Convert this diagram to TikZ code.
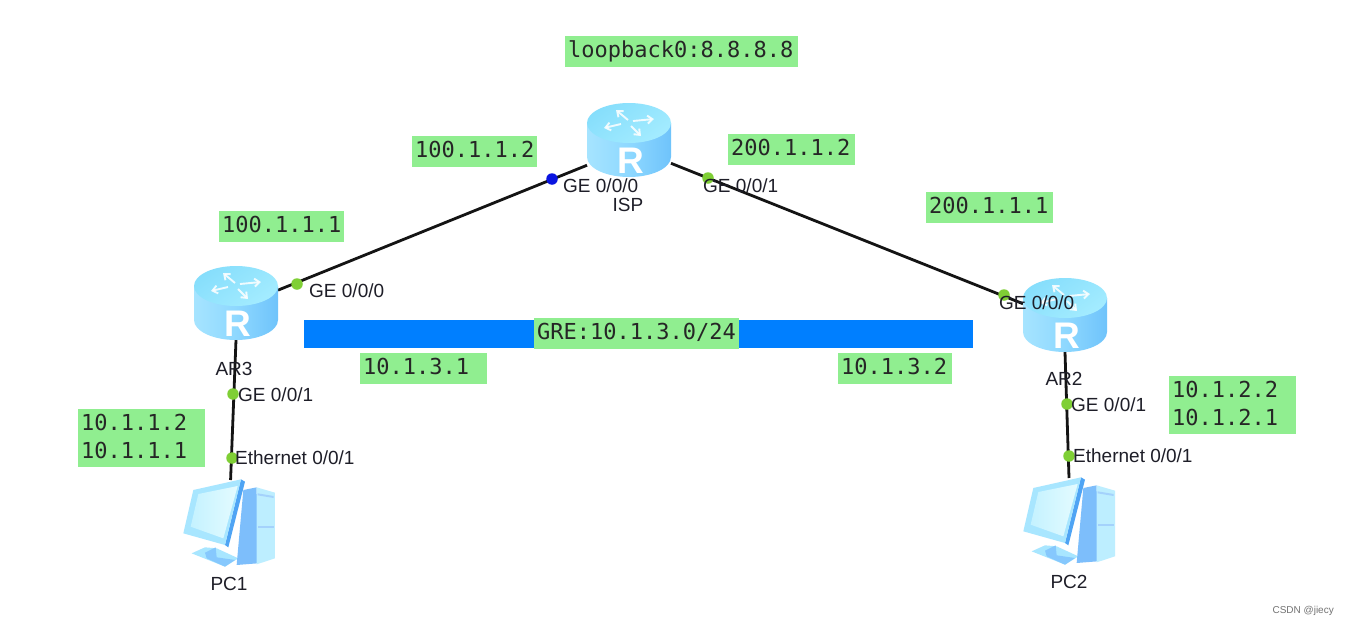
\documentclass[tikz,border=0pt]{standalone}
\usepackage{fontspec}
\setmainfont{Liberation Sans}
\newfontfamily\boxmono{DejaVu Sans Mono}
\usetikzlibrary{arrows.meta}
\definecolor{boxgreen}{HTML}{90EE90}
\definecolor{portgreen}{HTML}{7FCF35}
\definecolor{portblue}{HTML}{0A14E0}
\definecolor{barblue}{HTML}{007FFF}
\definecolor{inktext}{HTML}{1E1E28}
\definecolor{rlight}{HTML}{A6E4FF}
\definecolor{rmid}{HTML}{6FC3FB}
\definecolor{rpale}{HTML}{8ED8FF}
\definecolor{rtopa}{HTML}{86DEFC}
\definecolor{rtopb}{HTML}{A4ECFF}
\definecolor{pcframe}{HTML}{A8E6FF}
\definecolor{pcscreena}{HTML}{C4F2FF}
\definecolor{pcscreenb}{HTML}{E4FBFF}
\definecolor{pcside}{HTML}{7DBEFB}
\definecolor{pcedge}{HTML}{4FA4F4}
\definecolor{pcfront}{HTML}{BDEEFF}
\definecolor{pcstand}{HTML}{86C8FD}
\tikzset{
  devbox/.style={minimum width=84pt,minimum height=74pt,inner sep=0pt,outer sep=0pt},
  pcbox/.style={minimum width=92pt,minimum height=90pt,inner sep=0pt,outer sep=0pt},
  link/.style={draw=black!92,line width=2.8pt},
  port/.style={circle,fill=portgreen,inner sep=0pt,minimum size=11.5pt},
  portb/.style={circle,fill=portblue,inner sep=0pt,minimum size=11.5pt},
  lab/.style={anchor=base west,inner sep=0pt,text=inktext,font=\fontsize{19}{22}\selectfont},
  devname/.style={anchor=base,inner sep=0pt,text=inktext,font=\fontsize{19}{22}\selectfont},
  gbox/.style={anchor=west,fill=boxgreen,inner xsep=3pt,inner ysep=0pt,minimum height=31pt,
    text height=16pt,text depth=5pt,align=left,text=black!85,font=\boxmono\fontsize{22}{28}\selectfont},
  gboxtwo/.style={anchor=west,fill=boxgreen,inner xsep=3pt,inner ysep=0pt,minimum height=58pt,
    text height=17pt,text depth=33pt,align=left,text=black!85,font=\boxmono\fontsize{22}{28}\selectfont},
  arr/.style={white,opacity=.85,line width=1.9pt,-{Straight Barb[length=5pt,width=8pt]}},
}
\newcommand{\routericon}[1]{%
\begin{scope}[shift={(#1)}]
  \shade[left color=rlight,right color=rmid,middle color=rpale]
    (-42,-17) -- (-42,17) arc[x radius=42,y radius=20,start angle=180,end angle=0] -- (42,-17) -- cycle;
  \shade[left color=rtopa,right color=rtopb,shading angle=35]
    (0,-17) ellipse[x radius=42,y radius=20];
  \draw[arr] (-1,-20) -- (-13,-30);
  \draw[arr] (-8,-16) -- (-25,-12);
  \draw[arr] (4,-19) -- (25,-21);
  \draw[arr] (2,-14) -- (12,-4);
  \node[inner sep=0pt,text=white,anchor=base,font=\bfseries\fontsize{37}{37}\selectfont] at (2,33) {R};
\end{scope}}
\newcommand{\pcicon}[1]{%
\begin{scope}[shift={(#1)},x=0.3333pt,y=-0.3333pt]
  \fill[pcframe] (50,250) -- (90,232) -- (125,235) -- (190,265) -- (150,290) -- cycle;
  \fill[pcstand] (90,248) -- (122,232) -- (125,262) -- (180,270) -- (150,290) -- (95,265) -- cycle;
  \fill[pcside] (205,60) -- (245,52) -- (248,280) -- (185,285) -- cycle;
  \fill[pcfront] (245,52) -- (300,68) -- (300,265) -- (245,283) -- cycle;
  \fill[pcside!70!white] (248,70) -- (296,78) -- (296,84) -- (248,76) -- cycle;
  \fill[pcside!70!white] (248,168) -- (296,168) -- (296,174) -- (248,174) -- cycle;
  \fill[pcedge] (198,28) -- (210,35) -- (160,232) -- (150,225) -- cycle;
  \fill[pcframe] (55,60) -- (198,28) -- (150,225) -- (25,190) -- cycle;
  \shade[left color=pcscreena,right color=pcscreenb] (70,72) -- (188,48) -- (145,205) -- (47,170) -- cycle;
\end{scope}}
\begin{document}
\begin{tikzpicture}[x=1pt,y=-1pt]
\useasboundingbox (0,0) rectangle (1349,624);
\fill[white] (0,0) rectangle (1349,624);
% invisible device nodes
\node[devbox] (isp) at (629,140) {};
\node[devbox] (ar3) at (236,303) {};
\node[devbox] (ar2) at (1065,315) {};
\node[pcbox] (pc1) at (229,525) {};
\node[pcbox] (pc2) at (1069,523) {};
% connectors
\draw[link] (isp.211) -- (ar3.17);
\draw[link] (isp.-29) -- (ar2.165);
\draw[link] (ar3.south) -- (pc1.88);
\draw[link] (ar2.south) -- (pc2.north);
% bar
\node[fill=barblue,inner sep=0pt,minimum width=669pt,minimum height=28pt] (bar) at (638.5,334) {};
% icons
\routericon{629,140}
\routericon{236,303}
\routericon{1065,315}
\pcicon{175,470}
\pcicon{1015,468}
% ports
\node[portb] (p1) at (552,179) {};
\node[port] (p2) at (708,178) {};
\node[port] (p3) at (297,284) {};
\node[port] (p4) at (1004,295) {};
\node[port] (p5) at (233,394) {};
\node[port] (p6) at (232,458) {};
\node[port] (p7) at (1067,404) {};
\node[port] (p8) at (1069,456) {};
% port labels
\node[lab] (l1) at (563,192) {GE 0/0/0};
\node[lab] (l2) at (703,192) {GE 0/0/1};
\node[lab] (l3) at (309,297) {GE 0/0/0};
\node[lab] (l4) at (999,309) {GE 0/0/0};
\node[lab] (l5) at (238,401) {GE 0/0/1};
\node[lab] (l6) at (235,464) {Ethernet 0/0/1};
\node[lab] (l7) at (1071,411) {GE 0/0/1};
\node[lab] (l8) at (1073,462) {Ethernet 0/0/1};
% device names
\node[devname] (n1) at (628,211) {ISP};
\node[devname] (n2) at (234,375) {AR3};
\node[devname] (n3) at (1064,385) {AR2};
\node[devname] (n4) at (229,590) {PC1};
\node[devname] (n5) at (1069,588) {PC2};
% green boxes
\node[gbox,text width=227pt] (b1) at (565,51.5) {loopback0:8.8.8.8};
\node[gbox,text width=119pt] (b2) at (412,151.5) {100.1.1.2};
\node[gbox,text width=121pt] (b3) at (728,149.5) {200.1.1.2};
\node[gbox,text width=119pt] (b4) at (219,226.5) {100.1.1.1};
\node[gbox,text width=121pt] (b5) at (926,207.5) {200.1.1.1};
\node[gbox,text width=199pt] (b6) at (534,333.5) {GRE:10.1.3.0/24};
\node[gbox,text width=121pt] (b7) at (360,368.5) {10.1.3.1};
\node[gbox,text width=108pt] (b8) at (838,368.5) {10.1.3.2};
\node[gboxtwo,text width=121pt] (b9) at (78,438) {10.1.1.2\\10.1.1.1};
\node[gboxtwo,text width=121pt] (b10) at (1169,405) {10.1.2.2\\10.1.2.1};
\node[anchor=base east,inner sep=0pt,text=black!55,font=\fontsize{10}{12}\selectfont] (wm) at (1334,613) {CSDN @jiecy};
\end{tikzpicture}
\end{document}
